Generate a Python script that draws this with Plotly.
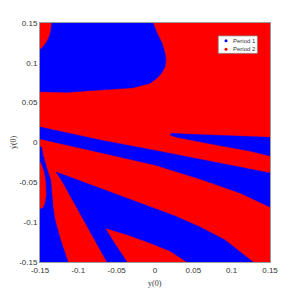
import plotly.graph_objects as go

# Axis ranges and ticks
x_range = [-0.15, 0.15]
y_range = [-0.15, 0.15]
tick_vals = [-0.15, -0.1, -0.05, 0, 0.05, 0.1, 0.15]
tick_text = ["-0.15", "-0.1", "-0.05", "0", "0.05", "0.1", "0.15"]
x_title = "y(0)"
y_title = "ẏ(0)"

series_names = ["Period 1", "Period 2"]
series_colors = ["#0000ff", "#ff0000"]

# Boundaries of the Period 1 (blue) basins
top_basin_x = [-0.15, -0.15, -0.1478, -0.1422, -0.1379, -0.1357, -0.1347,
               -0.0026, 0.0026, 0.0091, 0.0130, 0.0143, 0.0130, 0.0078, 0.0013,
               -0.0065, -0.0287, -0.0717, -0.1148, -0.15]
top_basin_y = [0.0638, 0.1170, 0.1182, 0.1245, 0.1328, 0.1412, 0.15,
               0.15, 0.1374, 0.1249, 0.1123, 0.1036, 0.0948, 0.0860, 0.0797,
               0.0743, 0.0688, 0.0659, 0.0630, 0.0638]

wedge_x = [0.0196, 0.0218, 0.0369, 0.0805, 0.1239, 0.15,
           0.15, 0.1239, 0.0805, 0.0457, 0.0283, 0.0196]
wedge_y = [0.0101, 0.0116, 0.0107, 0.0090, 0.0078, 0.0065,
           -0.0169, -0.0107, -0.0031, 0.0031, 0.0065, 0.0094]

stripe_x = [-0.15, -0.0717, -0.0065, 0.0717, 0.15,
            0.15, 0.1109, 0.0626, 0.0, -0.0717, -0.15]
stripe_y = [0.0195, 0.0031, -0.0088, -0.0232, -0.0383,
            -0.0810, -0.0634, -0.0471, -0.0282, -0.0125, 0.0044]

fan_x = [-0.1291, -0.0978, -0.0652, -0.0326, -0.0065, 0.0261, 0.0587, 0.0913, 0.1278,
         0.0417, 0.0196, -0.0065, -0.0352, -0.0652, -0.0522, -0.0365,
         -0.0626, -0.0926, -0.1213, -0.1291]
fan_y = [-0.0370, -0.0483, -0.0596, -0.0709, -0.0810, -0.0923, -0.1061, -0.1224, -0.15,
         -0.15, -0.1362, -0.1261, -0.1161, -0.1073, -0.1274, -0.15,
         -0.15, -0.0973, -0.0483, -0.0370]

edge_x = [-0.15, -0.148, -0.1461, -0.1435, -0.1396, -0.1360, -0.1343, -0.133, -0.1304,
          -0.1239, -0.1135, -0.15, -0.15, -0.1461, -0.1435, -0.1415, -0.1422, -0.1441,
          -0.1474, -0.15]
edge_y = [-0.0056, -0.0056, -0.0157, -0.0257, -0.0370, -0.0471, -0.0659, -0.0810, -0.0973,
          -0.1199, -0.15, -0.15, -0.0835, -0.0822, -0.0772, -0.0659, -0.0496, -0.0370,
          -0.0282, -0.0232]

blue_regions = [(top_basin_x, top_basin_y), (wedge_x, wedge_y), (stripe_x, stripe_y),
                (fan_x, fan_y), (edge_x, edge_y)]

fig = go.Figure()

# Period 2 (red) covers the whole square
fig.add_trace(go.Scatter(
    x=[x_range[0], x_range[1], x_range[1], x_range[0], x_range[0]],
    y=[y_range[0], y_range[0], y_range[1], y_range[1], y_range[0]],
    fill="toself", mode="lines", line=dict(width=0, color=series_colors[1]),
    fillcolor=series_colors[1], showlegend=False, hoverinfo="skip"))

for bx, by in blue_regions:
    fig.add_trace(go.Scatter(
        x=bx, y=by, fill="toself", mode="lines",
        line=dict(width=0.5, color=series_colors[0]),
        fillcolor=series_colors[0], showlegend=False, hoverinfo="skip"))

axis_common = dict(
    range=x_range, tickvals=tick_vals, ticktext=tick_text,
    showgrid=False, zeroline=False, showline=True, mirror=True,
    linecolor="#9a9a9a", linewidth=1, ticks="", automargin=False,
    tickfont=dict(family="Liberation Sans, Arial", size=8, color="#333333"),
)

# page body has an 8px margin, so the figure is 292x288 placed at (8, 8)
fig.update_layout(
    width=292, height=288,
    margin=dict(l=32, r=30, t=15, b=34),
    paper_bgcolor="white", plot_bgcolor=series_colors[1],
    showlegend=False,
    xaxis=dict(**axis_common),
    yaxis=dict(**{**axis_common, "range": y_range}),
)

title_font = dict(family="Liberation Serif, Times New Roman", size=8, color="#333333")
fig.add_annotation(x=0.5, y=-0.092, xref="paper", yref="paper", text=x_title, showarrow=False,
                   xanchor="center", yanchor="middle", font=title_font)
fig.add_annotation(x=-0.115, y=0.5, xref="paper", yref="paper", text=y_title, showarrow=False,
                   xanchor="center", yanchor="middle", textangle=-90, borderpad=0,
                   font=title_font)

# Legend box drawn in paper coordinates
shapes = [dict(type="rect", xref="paper", yref="paper", x0=0.775, x1=0.945, y0=0.873, y1=0.946,
               fillcolor="white", line=dict(color="#8c8c8c", width=0.8), layer="above")]
legend_rows = [0.926, 0.890]
for name, col, yy in zip(series_names, series_colors, legend_rows):
    shapes.append(dict(type="circle", xref="paper", yref="paper",
                       x0=0.8087 - 0.0065, x1=0.8087 + 0.0065, y0=yy - 0.0063, y1=yy + 0.0063,
                       fillcolor=col, line=dict(color=col, width=0), layer="above"))
    fig.add_annotation(x=0.835, y=yy, xref="paper", yref="paper", text=name, showarrow=False,
                       xanchor="left", yanchor="middle", borderpad=0,
                       font=dict(family="Liberation Sans, Arial", size=6, color="#333333"))
fig.update_layout(shapes=shapes)

fig.write_html("out.html")
